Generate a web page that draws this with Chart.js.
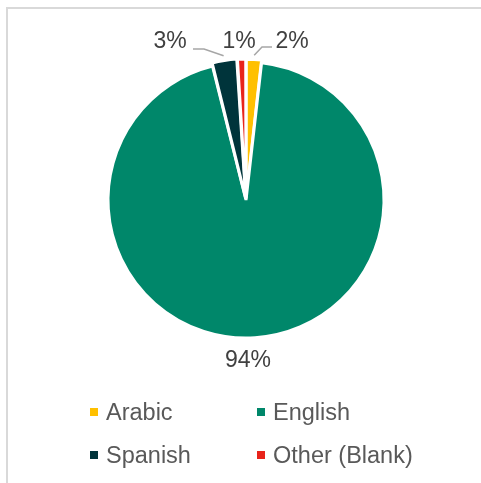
<!DOCTYPE html>
<html>
<head>
<meta charset="utf-8">
<script src="https://cdn.jsdelivr.net/npm/chart.js@4"></script>
<style>
  body { margin: 0; background: #fff; font-family: "Liberation Sans", Arial, sans-serif; }
  #wrap { position: relative; width: 481px; height: 483px; }
  #frame { position: absolute; left: 6px; top: 7px; right: 0; bottom: 0;
           border-top: 2px solid #d9d9d9; border-left: 2px solid #d9d9d9; }
  canvas { position: absolute; left: 0; top: 0; }
  .legend { position: absolute; display: flex; align-items: center;
            font-size: 23.5px; color: #595959; white-space: nowrap; }
  .legend span.box { display: inline-block; width: 8px; height: 8px; margin-right: 8px; }
</style>
</head>
<body>
<div id="wrap">
  <div id="frame"></div>
  <canvas id="chart" width="481" height="483"></canvas>
  <div id="legend"></div>
</div>
<script>
// Languages, clockwise from 12 o'clock
const languages = ['Arabic', 'English', 'Spanish', 'Other (Blank)'];
const shares = [1.8, 94.3, 2.9, 1.0];
const shareLabels = ['2%', '94%', '3%', '1%'];
const colors = ['#ffc000', '#00876a', '#00343b', '#e8241b'];

// where each label sits (centre of text) and the elbow of its leader line, if any
const labelSpots = [
  { x: 292, y: 42, start: [272, 47], elbow: [262, 47] },
  { x: 248, y: 361 },
  { x: 170, y: 42, start: [193, 49], elbow: [204, 49] },
  { x: 239, y: 42 }
];

// Draw percentage labels with leader lines
const labelPlugin = {
  id: 'pieLabels',
  afterDatasetsDraw(chart) {
    const ctx = chart.ctx;
    const arcs = chart.getDatasetMeta(0).data;
    ctx.save();
    ctx.font = '23px "Liberation Sans", Arial, sans-serif';
    ctx.fillStyle = '#404040';
    ctx.textAlign = 'center';
    ctx.textBaseline = 'middle';
    arcs.forEach((arc, i) => {
      const spot = labelSpots[i];
      ctx.fillText(shareLabels[i], spot.x, spot.y);
      if (spot.elbow) {
        const { x, y, startAngle, endAngle, outerRadius } = arc.getProps(['x', 'y', 'startAngle', 'endAngle', 'outerRadius'], true);
        const mid = (startAngle + endAngle) / 2;
        const off = arc.options.offset || 0;
        const ex = x + Math.cos(mid) * (outerRadius + off + 1);
        const ey = y + Math.sin(mid) * (outerRadius + off + 1);
        ctx.strokeStyle = '#a6a6a6';
        ctx.lineWidth = 1.5;
        ctx.beginPath();
        ctx.moveTo(spot.start[0], spot.start[1]);
        ctx.lineTo(spot.elbow[0], spot.elbow[1]);
        ctx.lineTo(ex, ey);
        ctx.stroke();
      }
    });
    ctx.restore();
  }
};

new Chart(document.getElementById('chart'), {
  type: 'pie',
  data: {
    labels: languages,
    datasets: [{
      data: shares,
      backgroundColor: colors,
      borderColor: '#ffffff',
      borderWidth: 3,
      offset: [6, 0, 7, 6],
      radius: 138
    }]
  },
  options: {
    responsive: false,
    animation: false,
    layout: { padding: { left: 100, right: 89, top: 54, bottom: 137 } },
    plugins: {
      legend: { display: false },
      tooltip: { enabled: false }
    }
  },
  plugins: [labelPlugin]
});

// Legend, two per row
const legendSpots = [[90, 412], [257, 412], [90, 455], [257, 455]];
const legend = document.getElementById('legend');
languages.forEach((name, i) => {
  const item = document.createElement('div');
  item.className = 'legend';
  item.style.left = legendSpots[i][0] + 'px';
  item.style.top = (legendSpots[i][1] - 14) + 'px';
  item.style.height = '28px';
  item.innerHTML = `<span class="box" style="background:${colors[i]}"></span>${name}`;
  legend.appendChild(item);
});
</script>
</body>
</html>
